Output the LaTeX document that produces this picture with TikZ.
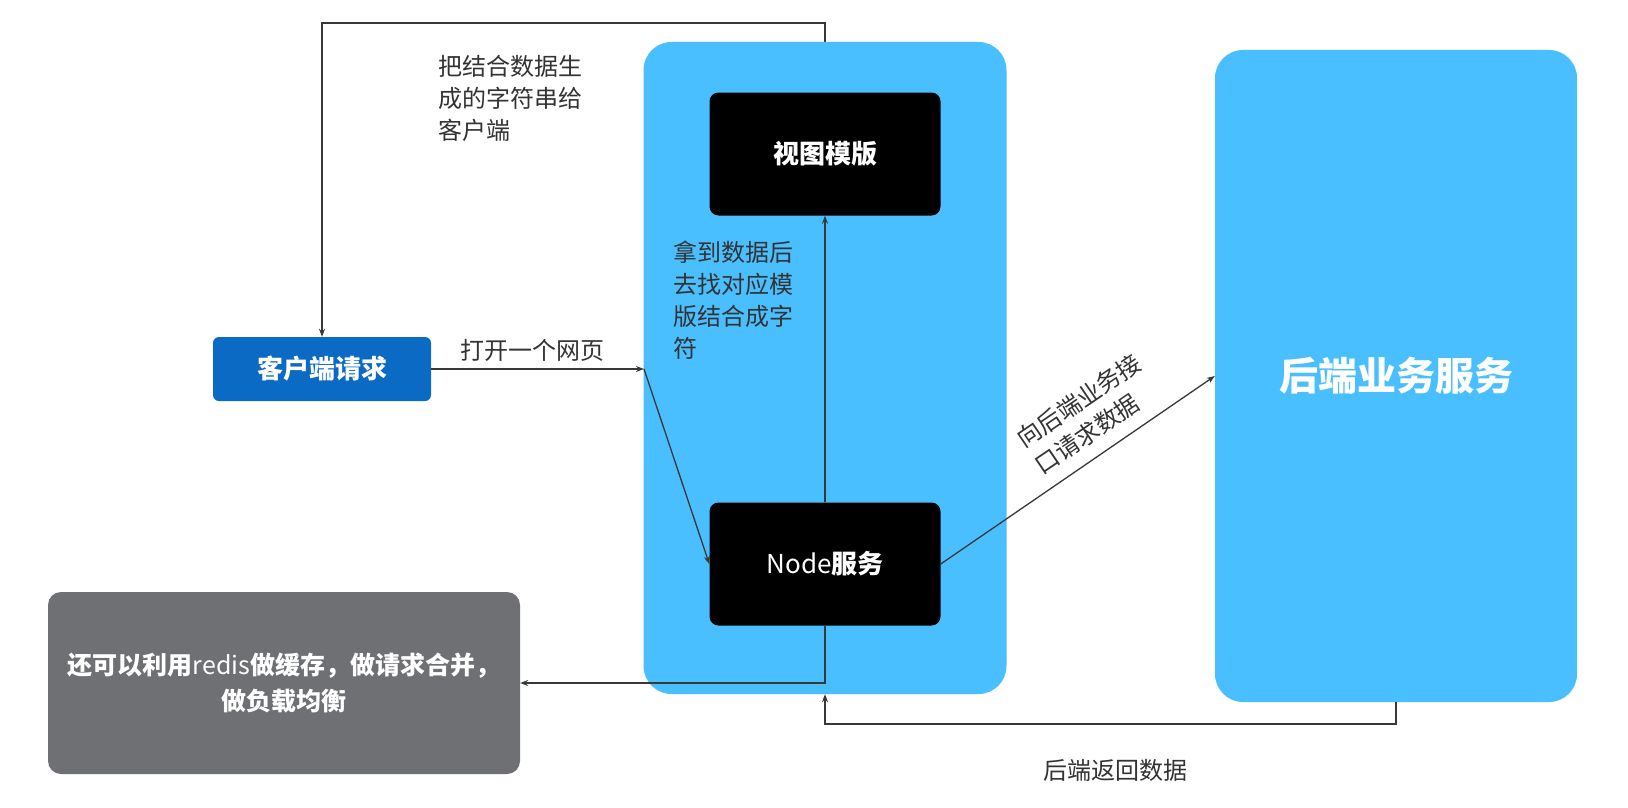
\documentclass[tikz,border=0pt]{standalone}
\usepackage{fontspec}
\setmainfont{Noto Sans CJK SC}
\usetikzlibrary{arrows.meta}
\definecolor{lblue}{HTML}{4ABFFF}
\definecolor{cblue}{HTML}{0B6BC4}
\definecolor{gbox}{HTML}{6E7074}
\definecolor{lnc}{HTML}{383838}
\pgfdeclarelayer{bg}
\pgfdeclarelayer{paper}
\pgfsetlayers{paper,bg,main}
\tikzset{
  conn/.style={draw=lnc, line width=1.3pt, -{Stealth[length=8pt,width=6pt]}},
  bigbox/.style={fill=lblue, draw=none, rounded corners=28pt, inner sep=0pt},
  blackbox/.style={fill=black, draw=none, rounded corners=9pt, minimum width=231pt, minimum height=123pt, text=white, inner sep=0pt},
  lab/.style={inner sep=0pt, text=black!80, font=\fontsize{24}{32}\selectfont},
}
\begin{document}
\begin{tikzpicture}[x=1pt,y=-1pt]
\useasboundingbox (0,0) rectangle (1628,808);
\begin{pgfonlayer}{paper}
\fill[white] (0,0) rectangle (1628,808);
\end{pgfonlayer}

% containers
\node[bigbox, minimum width=363pt, minimum height=652pt] (cont) at (825,368) {};
\node[bigbox, minimum width=362pt, minimum height=652pt, text=white,
      font=\fontsize{39}{44}\selectfont\bfseries] (back) at (1396,376) {后端业务服务};

% inner boxes
\node[blackbox, font=\fontsize{26}{30}\selectfont\bfseries] (view) at (825,154) {视图模版};
\node[blackbox, font=\fontsize{26}{30}\selectfont] (svc) at (825,564) {Node\textbf{服务}};
\node[fill=cblue, rounded corners=6pt, minimum width=218pt, minimum height=64pt, inner sep=0pt,
      text=white, font=\fontsize{26}{30}\selectfont\bfseries] (client) at (322,369) {客户端请求};
\node[fill=gbox, rounded corners=13pt, minimum width=472pt, minimum height=182pt, inner sep=0pt,
      text=white, align=center, font=\fontsize{25}{36}\selectfont\bfseries] (cache) at (284,683)
      {还可以利用{\mdseries redis}做缓存，做请求合并，\\做负载均衡};

% connector points
\coordinate (tl) at (322,23);
\coordinate (p1) at (644,369);
\coordinate (r1) at (1396,724);

% view -> client (runs behind the container)
\begin{pgfonlayer}{bg}
\draw[conn] (view.north) |- (tl) -- (client.north);
\end{pgfonlayer}

\draw[conn] (client.east) -- (p1);
\draw[conn] (p1) -- (svc.west);
\draw[conn] (svc.north) -- (view.south);
\draw[conn] (svc.south) |- (cache.east);
\draw[conn] (svc.east) -- (back.west);
\draw[conn] (back.south) -- (r1) -| (cont.south);

% labels
\node[lab, anchor=north west, align=left] (l1) at (438,55) {把结合数据生\\成的字符串给\\客户端};
\node[lab, anchor=north west, align=left] (l2) at (673,241) {拿到数据后\\去找对应模\\版结合成字\\符};
\node[lab] (l3) at (532,350) {打开一个网页};
\node[lab, rotate=34.2, align=left] (l4) at (1088,414) {向后端业务接\\口请求数据};
\node[lab] (l5) at (1115,770) {后端返回数据};
\end{tikzpicture}
\end{document}
